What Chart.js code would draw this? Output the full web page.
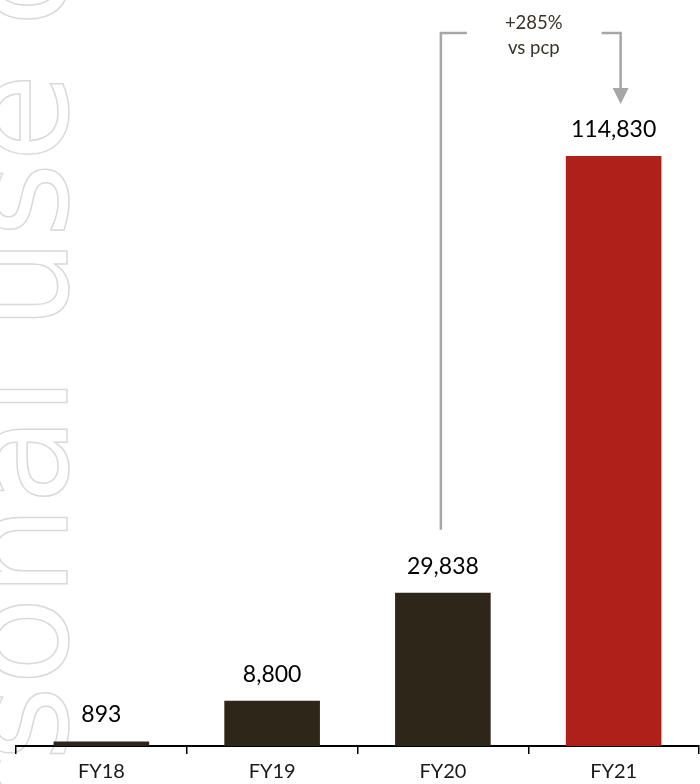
<!DOCTYPE html>
<html>
<head>
<meta charset="utf-8">
<script src="https://cdn.jsdelivr.net/npm/chart.js@4.4.0/dist/chart.umd.min.js"></script>
<style>
    html, body { margin: 0; padding: 0; background: #fff; }
    #grafico-wrap { position: relative; width: 700px; height: 784px; }
</style>
</head>
<body>
<div id="grafico-wrap"><canvas id="grafico"></canvas></div>
<script>
var anos = ['FY18', 'FY19', 'FY20', 'FY21'];
var valores = [893, 8800, 29838, 114830];
var textoVariacao = ['+285%', 'vs pcp'];
var marcaDagua = 'For personal use only';

var corEscura = '#2e2619';
var corDestaque = '#b0201b';
var corSeta = '#a6a6a6';

// texto vertical vazado no lado esquerdo
var pluginMarcaDagua = {
    id: 'marcaDagua',
    beforeDraw: function(chart) {
        var ctx = chart.ctx;
        ctx.save();
        ctx.font = '145px "DejaVu Sans"';
        ctx.strokeStyle = '#d9d9d9';
        ctx.lineWidth = 1.5;
        var ate = ctx.measureText('For persona').width;
        var letraL = ctx.measureText('l').width;
        ctx.translate(67, 396 + ate + letraL / 2);
        ctx.rotate(-Math.PI / 2);
        ctx.textBaseline = 'alphabetic';
        ctx.strokeText(marcaDagua, 0, 0);
        ctx.restore();
    }
};

// valores em cima das barras
var pluginRotulos = {
    id: 'rotulos',
    afterDatasetsDraw: function(chart) {
        var ctx = chart.ctx;
        var meta = chart.getDatasetMeta(0);
        ctx.save();
        ctx.font = '23px Lato';
        ctx.fillStyle = '#000';
        ctx.textAlign = 'center';
        ctx.textBaseline = 'alphabetic';
        meta.data.forEach(function(barra, i) {
            ctx.fillText(valores[i].toLocaleString('en-US'), barra.x, barra.y - 19);
        });
        ctx.restore();
    }
};

// colchete FY20 -> FY21 com a variacao
var pluginVariacao = {
    id: 'variacao',
    afterDraw: function(chart) {
        var ctx = chart.ctx;
        var escalaX = chart.scales.x;
        var barras = chart.getDatasetMeta(0).data;
        var x1 = escalaX.getPixelForValue(2) - 2;
        var x2 = escalaX.getPixelForValue(3) + 7;
        var yTopo = 33;
        var yBase = barras[2].y - 63;
        var yPonta = barras[3].y - 52;

        ctx.save();
        ctx.strokeStyle = corSeta;
        ctx.fillStyle = corSeta;
        ctx.lineWidth = 2.5;
        ctx.beginPath();
        ctx.moveTo(x1, yBase);
        ctx.lineTo(x1, yTopo);
        ctx.lineTo(x1 + 26, yTopo);
        ctx.moveTo(x2 - 19, yTopo);
        ctx.lineTo(x2, yTopo);
        ctx.lineTo(x2, yPonta - 15);
        ctx.stroke();

        ctx.beginPath();
        ctx.moveTo(x2 - 8, yPonta - 16);
        ctx.lineTo(x2 + 8, yPonta - 16);
        ctx.lineTo(x2, yPonta);
        ctx.closePath();
        ctx.fill();

        ctx.font = '18.5px Lato';
        ctx.fillStyle = '#3b3326';
        ctx.textAlign = 'center';
        ctx.textBaseline = 'alphabetic';
        var xm = (x1 + x2) / 2 + 3;
        ctx.fillText(textoVariacao[0], xm, 29);
        ctx.fillText(textoVariacao[1], xm, 54);
        ctx.restore();
    }
};

var ctx = document.getElementById('grafico').getContext('2d');

new Chart(ctx, {
    type: 'bar',
    data: {
        labels: anos,
        datasets: [{
            data: valores,
            backgroundColor: function(context) {
                return context.dataIndex === valores.length - 1 ? corDestaque : corEscura;
            },
            borderWidth: 0,
            barPercentage: 0.56,
            categoryPercentage: 1.0
        }]
    },
    options: {
        responsive: true,
        maintainAspectRatio: false,
        animation: false,
        layout: {
            padding: { left: 16, right: 1, top: 1, bottom: 0 }
        },
        plugins: {
            legend: { display: false },
            tooltip: { enabled: false }
        },
        scales: {
            y: {
                display: false,
                min: 0,
                max: 145000
            },
            x: {
                grid: {
                    offset: true,
                    drawOnChartArea: false,
                    drawTicks: true,
                    tickLength: 8,
                    color: '#000',
                    lineWidth: 1.5
                },
                border: {
                    display: true,
                    color: '#000',
                    width: 2
                },
                ticks: {
                    color: '#1a1a1a',
                    padding: 6,
                    font: {
                        family: 'Lato',
                        size: 20
                    }
                },
                afterFit: function(escala) {
                    escala.height = 38;
                }
            }
        }
    },
    plugins: [pluginMarcaDagua, pluginRotulos, pluginVariacao]
});
</script>
</body>
</html>
